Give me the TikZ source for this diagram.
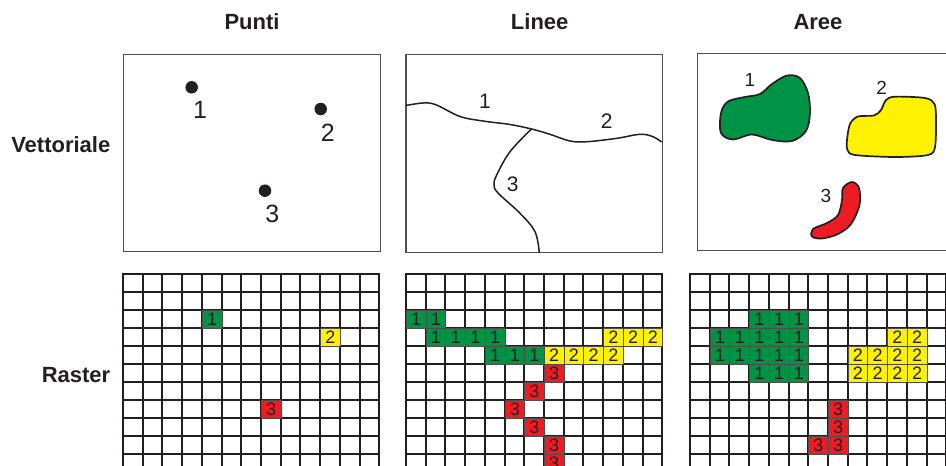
\documentclass[tikz,border=0pt]{standalone}
\usepackage{fontspec}
\setmainfont{Liberation Sans}
\definecolor{areagreen}{RGB}{0,146,69}
\definecolor{areayellow}{RGB}{255,242,0}
\definecolor{areared}{RGB}{237,28,36}
\definecolor{framegray}{RGB}{80,80,80}
\definecolor{inkblack}{RGB}{35,31,32}

\tikzset{
  heading/.style={font=\bfseries\fontsize{22}{26}\selectfont, text=inkblack, inner sep=0pt},
  rowlabel/.style={heading, anchor=east},
  vbox/.style={draw=framegray, line width=1.3pt},
  gridline/.style={draw=inkblack, line width=2pt, line cap=rect},
  cellbox/.style={draw=inkblack!80, line width=0.6pt, anchor=north west, inner sep=0pt,
    minimum width=19.72pt, minimum height=18pt, font=\fontsize{18}{20}\selectfont, text=inkblack},
  ptdot/.style={circle, fill=inkblack, inner sep=0pt, minimum size=12.5pt},
  ptlabel/.style={font=\fontsize{25}{30}\selectfont, text=inkblack, inner sep=0pt},
  lnlabel/.style={font=\fontsize{21}{25}\selectfont, text=inkblack, inner sep=0pt},
  arlabel/.style={font=\fontsize{19}{23}\selectfont, text=inkblack, inner sep=0pt},
  vline/.style={draw=inkblack, line width=1.5pt},
  region/.style={draw=inkblack, line width=1.7pt},
}

\begin{document}
\begin{tikzpicture}[x=1pt, y=-1pt]
\useasboundingbox (0,0) rectangle (946,466);
\clip (0,0) rectangle (946,466);
\fill[white] (0,0) rectangle (946,466);

% column and row headings
\node[heading] (hpunti) at (252,21.7) {Punti};
\node[heading] (hlinee) at (539.7,21.7) {Linee};
\node[heading] (haree) at (818,21.7) {Aree};
\node[rowlabel] (hvett) at (110.5,144.3) {Vettoriale};
\node[rowlabel] (hrast) at (110.5,375) {Raster};

% vector frames
\draw[vbox] (123.3,54.3) rectangle (380.7,251.7);
\draw[vbox] (406,54.3) rectangle (662.3,252.3);
\draw[vbox] (697.7,53.3) rectangle (960,250.7);

% vector points
\node[ptdot] (p1) at (191.7,87.3) {};
\node[ptdot] (p2) at (320.7,109) {};
\node[ptdot] (p3) at (265,190.7) {};
\node[ptlabel] (lp1) at (200,110) {1};
\node[ptlabel] (lp2) at (327.7,132.3) {2};
\node[ptlabel] (lp3) at (272.3,214.3) {3};

% vector lines
\coordinate (jn) at (531.5,129);
\draw[vline] plot[smooth, tension=0.6] coordinates {
  (406,105.5) (423,103) (436,104.8) (460,116.5) (483,121) (510,124.5) (531.5,129)
  (550,134.3) (570,141) (587,141.7) (617,138.3) (640,134.3) (653,136.7) (661.5,142)};
\draw[vline] plot[smooth, tension=0.6] coordinates {
  (jn) (510,151.7) (496.7,175) (494,185) (498.3,193.3) (520,213.3) (535,231.7) (539.3,253)};
\node[lnlabel] (ll1) at (485,101) {1};
\node[lnlabel] (ll2) at (606.7,121) {2};
\node[lnlabel] (ll3) at (512.7,184.3) {3};

% vector areas
\filldraw[region, fill=areagreen] plot[smooth cycle, tension=0.55] coordinates {
  (721,113) (728,101.5) (745,97) (760,94) (772,84) (787,75.5) (800,78) (808,93)
  (810,113) (806,131) (792,141) (772,140) (752,134.5) (733,139.5) (721,133)};
\filldraw[region, fill=areayellow] plot[smooth cycle, tension=0.5] coordinates {
  (847,140) (850,124) (858,116.5) (874,115.5) (881,110) (886,100) (895,96.7)
  (925,98) (934.5,104) (936,120) (935,147) (928,155) (895,157) (855,155) (847.5,150)};
\filldraw[region, fill=areared] plot[smooth cycle, tension=0.55] coordinates {
  (852,182) (859,188) (859.5,205) (851,224) (838,234) (822,238.5) (812,236.5)
  (813,229) (827,223) (838,215) (842,200) (843,188)};
\node[arlabel] (la1) at (750,80) {1};
\node[arlabel] (la2) at (881.7,87.7) {2};
\node[arlabel] (la3) at (826,195.7) {3};

% raster grids, lines snapped to whole units
\foreach \gx in {123,406,690} {
  \foreach \i in {0,...,13}
    \draw[gridline] ({round(\gx+\i*19.72)},274) -- ({round(\gx+\i*19.72)},480);
  \foreach \j in {0,...,11}
    \draw[gridline] (\gx,{274+\j*18}) -- ({round(\gx+13*19.72)},{274+\j*18});
}

% raster cells: column/row/colour/value
\foreach \c/\r/\col/\v [count=\k] in {4/2/areagreen/1, 10/3/areayellow/2, 7/7/areared/3}
  \node[cellbox, fill=\col] (pc\k) at ({123+\c*19.72},{274+\r*18}) {\v};

\foreach \c/\r/\col/\v [count=\k] in {
  0/2/areagreen/1, 1/2/areagreen/1,
  1/3/areagreen/1, 2/3/areagreen/1, 3/3/areagreen/1, 4/3/areagreen/1,
  10/3/areayellow/2, 11/3/areayellow/2, 12/3/areayellow/2,
  4/4/areagreen/1, 5/4/areagreen/1, 6/4/areagreen/1,
  7/4/areayellow/2, 8/4/areayellow/2, 9/4/areayellow/2, 10/4/areayellow/2,
  7/5/areared/3, 6/6/areared/3, 5/7/areared/3, 6/8/areared/3, 7/9/areared/3, 7/10/areared/3}
  \node[cellbox, fill=\col] (lc\k) at ({406+\c*19.72},{274+\r*18}) {\v};

\foreach \c/\r/\col/\v [count=\k] in {
  3/2/areagreen/1, 4/2/areagreen/1, 5/2/areagreen/1,
  1/3/areagreen/1, 2/3/areagreen/1, 3/3/areagreen/1, 4/3/areagreen/1, 5/3/areagreen/1,
  10/3/areayellow/2, 11/3/areayellow/2,
  1/4/areagreen/1, 2/4/areagreen/1, 3/4/areagreen/1, 4/4/areagreen/1, 5/4/areagreen/1,
  8/4/areayellow/2, 9/4/areayellow/2, 10/4/areayellow/2, 11/4/areayellow/2,
  3/5/areagreen/1, 4/5/areagreen/1, 5/5/areagreen/1,
  8/5/areayellow/2, 9/5/areayellow/2, 10/5/areayellow/2, 11/5/areayellow/2,
  7/7/areared/3, 7/8/areared/3, 6/9/areared/3, 7/9/areared/3}
  \node[cellbox, fill=\col] (ac\k) at ({690+\c*19.72},{274+\r*18}) {\v};
\end{tikzpicture}
\end{document}
